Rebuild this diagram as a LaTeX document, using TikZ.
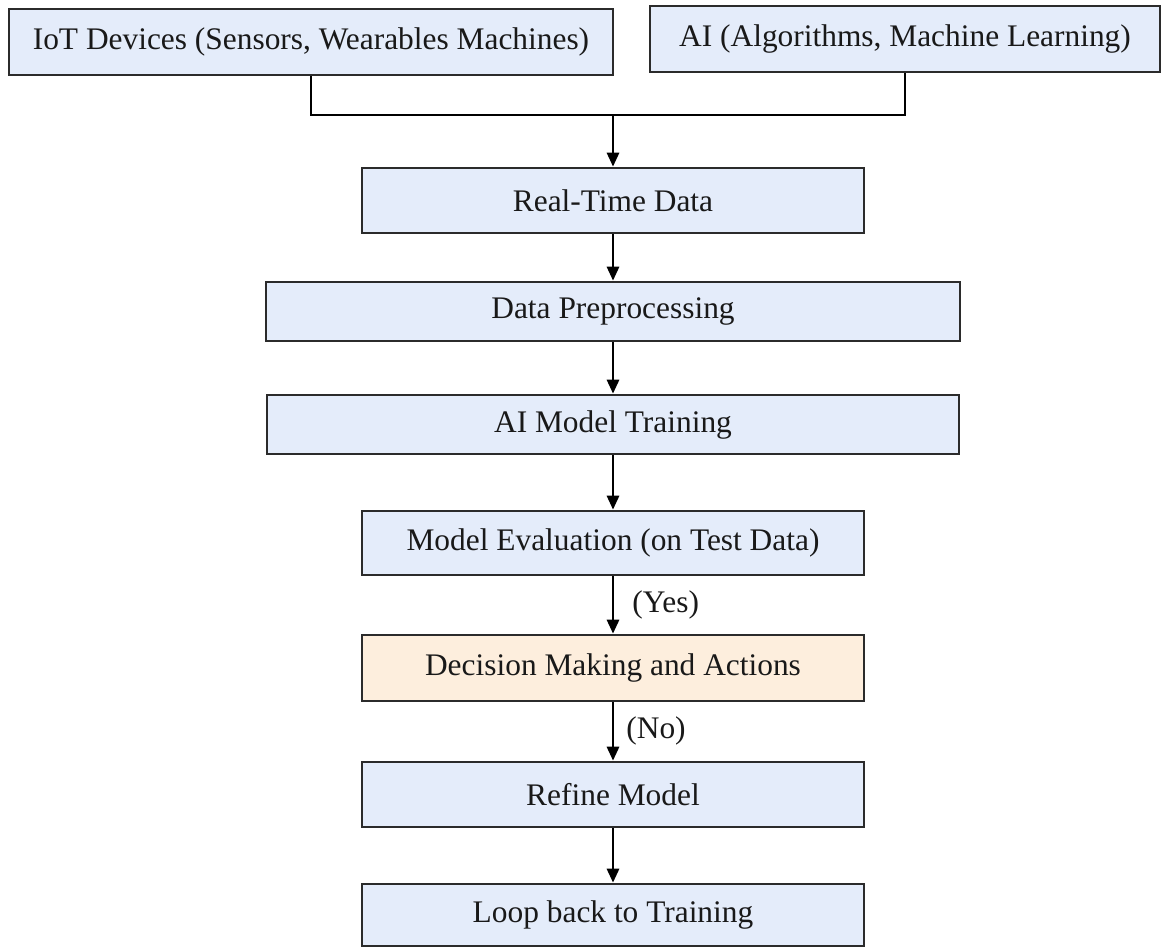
\documentclass[tikz,border=0pt]{standalone}
\usepackage{fontspec}
\setmainfont{Liberation Serif}
\usepackage{tikz}
\usetikzlibrary{arrows.meta}
\definecolor{boxblue}{HTML}{E4ECFA}
\definecolor{boxpeach}{HTML}{FDEEDD}
\definecolor{edgegray}{HTML}{2B2B2B}

\begin{document}
\begin{tikzpicture}[x=0.5pt,y=-0.5pt,
    box/.style={draw=edgegray,line width=1.3pt,fill=boxblue,inner sep=0pt,text=black!90,font=\fontsize{15.7}{19}\selectfont},
    arr/.style={line width=1.4pt,-{Triangle[length=7pt,width=6pt]}},
    lbl/.style={inner sep=0pt,text=black!90,font=\fontsize{15.7}{19}\selectfont}]
          \useasboundingbox (0,0) rectangle (1161,949);
          \node[box,minimum width=302pt,minimum height=33pt] (iot) at (311,42) {IoT Devices (Sensors, Wearables Machines)};
          \node[box,minimum width=255pt,minimum height=33pt] (ai) at (905,39) {AI (Algorithms, Machine Learning)};
          \node[box,minimum width=251pt,minimum height=32.5pt] (rt) at (613,200.5) {Real-Time Data};
          \node[box,minimum width=347pt,minimum height=29.5pt] (dp) at (613,311.5) {Data Preprocessing};
          \node[box,minimum width=346pt,minimum height=29.5pt] (amt) at (613,424.5) {AI Model Training};
          \node[box,minimum width=251pt,minimum height=32pt] (me) at (613,543) {Model Evaluation (on Test Data)};
          \node[box,fill=boxpeach,minimum width=251pt,minimum height=33pt] (dm) at (613,668) {Decision Making and Actions};
          \node[box,minimum width=251pt,minimum height=32.5pt] (rm) at (613,794.5) {Refine Model};
          \node[box,minimum width=251pt,minimum height=31pt] (lb) at (613,915) {Loop back to Training};
          \coordinate (join) at (613,115);
          \draw[line width=1.4pt] (iot.south) |- (join) -| (ai.south);
          \draw[arr] (join) -- (rt);
          \draw[arr] (rt) -- (dp);
          \draw[arr] (dp) -- (amt);
          \draw[arr] (amt) -- (me);
          \draw[arr] (me) -- (dm);
          \draw[arr] (dm) -- (rm);
          \draw[arr] (rm) -- (lb);
          \node[lbl,anchor=west] (yes) at (632,605) {(Yes)};
          \node[lbl,anchor=west] (no) at (626,731) {(No)};
        \end{tikzpicture}
\end{document}
